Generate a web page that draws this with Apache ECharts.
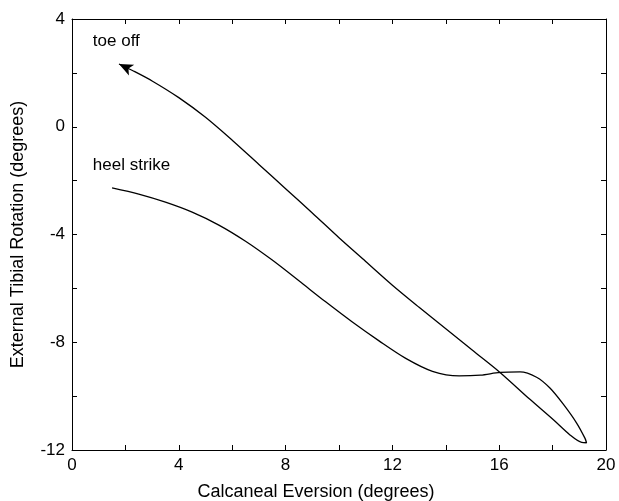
<!DOCTYPE html>
<html>
<head>
<meta charset="utf-8">
<script src="https://cdn.jsdelivr.net/npm/echarts@6/dist/echarts.min.js"></script>
<style>
html,body{margin:0;padding:0;background:#fff;}
#c{width:619px;height:501px;}
</style>
</head>
<body>
<div id="c"></div>
<script>
// Path from heel strike, down to the loop at max eversion, then back up to toe off
var lowerX = [1.5, 2.5, 3.5, 4.5, 5.5, 6.5, 7.5, 8.5, 9.5, 10.5, 11.5, 12.5, 13.5, 14.5, 15.3, 16.03, 16.78, 17.4, 17.9, 18.4, 18.9, 19.21, 19.27];
var lowerY = [-2.27, -2.5, -2.8, -3.17, -3.65, -4.25, -4.95, -5.72, -6.5, -7.25, -7.95, -8.6, -9.08, -9.25, -9.22, -9.12, -9.1, -9.3, -9.7, -10.3, -11.0, -11.56, -11.73];
var upperX = [19.09, 18.65, 18.03, 17.15, 16.03, 15.0, 14.0, 13.0, 12.0, 11.0, 10.0, 9.0, 8.0, 7.0, 6.0, 5.0, 4.0, 3.0, 2.3, 1.76];
var upperY = [-11.72, -11.44, -10.88, -10.12, -9.12, -8.3, -7.5, -6.7, -5.88, -5.0, -4.12, -3.2, -2.3, -1.4, -0.5, 0.35, 1.08, 1.7, 2.07, 2.33];

var annoText = ['toe off', 'heel strike'];
var annoX = [0.78, 0.78];
var annoY = [3.18, -1.42];

var xTitle = 'Calcaneal Eversion (degrees)';
var yTitle = 'External Tibial Rotation (degrees)';

var pathData = [];
for (var i = 0; i < lowerX.length; i++) pathData.push([lowerX[i], lowerY[i]]);
for (var j = 0; j < upperX.length; j++) pathData.push([upperX[j], upperY[j]]);

var n = upperX.length;
var arrowFrom = [upperX[n - 2], upperY[n - 2]];
var arrowTo = [upperX[n - 1], upperY[n - 1]];

var annoData = annoText.map(function (t, k) { return { name: t, coord: [annoX[k], annoY[k]] }; });

var font = 'Liberation Sans, Arial, Helvetica, sans-serif';
var ax = {
  axisLine: { show: true, onZero: false, lineStyle: { color: '#000', width: 1 } },
  axisTick: { show: true, inside: true, length: 5, lineStyle: { color: '#000' } },
  splitLine: { show: false }
};

var chart = echarts.init(document.getElementById('c'), null, { renderer: 'canvas' });
chart.setOption({
  animation: false,
  backgroundColor: '#fff',
  grid: { left: 72, right: 13, top: 19, bottom: 51, containLabel: false, outerBoundsMode: 'none' },
  xAxis: [
    Object.assign({}, ax, {
      type: 'value', min: 0, max: 20, interval: 2, position: 'bottom',
      name: xTitle, nameLocation: 'middle', nameGap: 33,
      nameTextStyle: { color: '#000', fontSize: 18, fontFamily: font, padding: [0, 46, 0, 0] },
      axisLabel: { color: '#000', fontSize: 17, fontFamily: font, margin: 7,
        formatter: function (v) { return v % 4 === 0 ? String(v) : ''; } }
    }),
    Object.assign({}, ax, {
      type: 'value', min: 0, max: 20, interval: 2, position: 'top',
      axisLabel: { show: false }
    })
  ],
  yAxis: [
    Object.assign({}, ax, {
      type: 'value', min: -12, max: 4, interval: 2, position: 'left',
      name: yTitle, nameLocation: 'middle', nameGap: 45,
      nameTextStyle: { color: '#000', fontSize: 18, fontFamily: font },
      axisLabel: { color: '#000', fontSize: 17, fontFamily: font, margin: 7,
        formatter: function (v) { return v % 4 === 0 ? String(v) : ''; } }
    }),
    Object.assign({}, ax, {
      type: 'value', min: -12, max: 4, interval: 2, position: 'right',
      axisLabel: { show: false }
    })
  ],
  series: [{
    type: 'line',
    data: pathData,
    smooth: 0.3,
    showSymbol: false,
    symbol: 'none',
    lineStyle: { color: '#000', width: 1.3 },
    markLine: {
      silent: true,
      symbol: ['none', 'arrow'],
      symbolSize: [9, 14],
      label: { show: false },
      lineStyle: { color: '#000', width: 0.01, type: 'solid' },
      data: [[{ coord: arrowFrom }, { coord: arrowTo }]]
    },
    markPoint: {
      silent: true,
      symbol: 'circle',
      symbolSize: 0,
      label: {
        show: true, position: 'right', distance: 0,
        color: '#000', fontSize: 17, fontFamily: font,
        formatter: function (p) { return p.name; }
      },
      data: annoData
    }
  }]
});
</script>
</body>
</html>
